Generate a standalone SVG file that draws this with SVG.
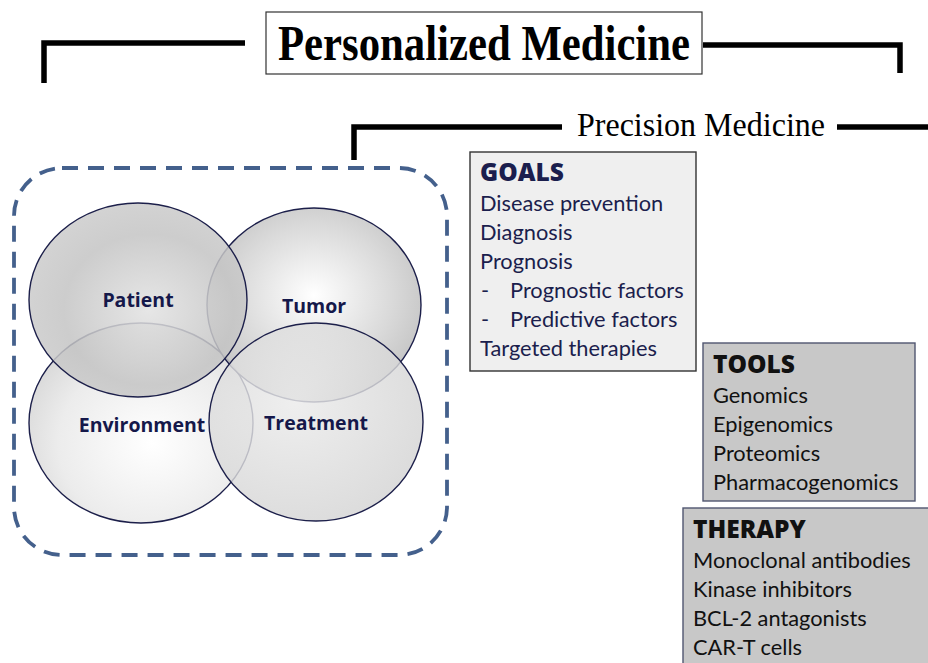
<svg xmlns="http://www.w3.org/2000/svg" width="928" height="663" viewBox="0 0 928 663">
  <style>
    .bracket { fill: none; stroke: #000; stroke-width: 5.5; stroke-linecap: butt; stroke-linejoin: miter; }
    .venn { stroke: #1c1f4a; stroke-width: 1.4; }
    .vlabel { font-family: "Open Sans", "Liberation Sans", sans-serif; font-weight: 700; font-size: 19.5px; fill: #15184a; text-anchor: middle; }
    .head { font-family: "Open Sans", "Liberation Sans", sans-serif; font-weight: 800; font-size: 24.5px; }
    .item { font-family: "Lato", "Liberation Sans", sans-serif; font-size: 21.8px; }
    .goals text { fill: #1b1e4d; }
    .gray text { fill: #111; }
  </style>
  <defs>
    <radialGradient id="gPatient" cx="0.55" cy="0.55" r="0.65">
      <stop offset="0" stop-color="#e2e2e2"/>
      <stop offset="0.6" stop-color="#c4c4c4"/>
      <stop offset="1" stop-color="#cfcfcf"/>
    </radialGradient>
    <radialGradient id="gTumor" cx="0.5" cy="0.45" r="0.6">
      <stop offset="0" stop-color="#ffffff"/>
      <stop offset="0.6" stop-color="#d6d6d6"/>
      <stop offset="1" stop-color="#b9b9b9"/>
    </radialGradient>
    <radialGradient id="gEnv" cx="0.55" cy="0.6" r="0.6">
      <stop offset="0" stop-color="#ffffff"/>
      <stop offset="0.7" stop-color="#eaeaea"/>
      <stop offset="1" stop-color="#d6d6d6"/>
    </radialGradient>
    <radialGradient id="gTreat" cx="0.4" cy="0.4" r="0.7">
      <stop offset="0" stop-color="#ebebeb"/>
      <stop offset="1" stop-color="#d2d2d2"/>
    </radialGradient>
  </defs>

  <!-- brackets and headings -->
  <g id="connectors">
    <path class="bracket" d="M44 83 V43 H245"/>
    <path class="bracket" d="M703 45 H900 V73"/>
    <path class="bracket" d="M354 160 V127 H562"/>
    <path class="bracket" d="M837 127 H928"/>
  </g>

  <g id="personalized">
    <rect x="266" y="12" width="436" height="62" fill="#fff" stroke="#333" stroke-width="1.2"/>
    <text x="278" y="60" font-family="Liberation Serif, serif" font-weight="700" font-size="51" textLength="412" lengthAdjust="spacingAndGlyphs">Personalized Medicine</text>
  </g>

  <g id="precision">
    <text x="577" y="136" font-family="Liberation Serif, serif" font-size="33" textLength="248" lengthAdjust="spacingAndGlyphs">Precision Medicine</text>
  </g>

  <!-- dashed frame around the Venn diagram -->
  <g id="frame">
    <rect x="14" y="168" width="433" height="387" rx="48" ry="48" fill="none" stroke="#44608c" stroke-width="3.8" stroke-dasharray="16 10"/>
  </g>

  <!-- four overlapping ellipses -->
  <g id="environment">
    <ellipse class="venn" cx="141" cy="423" rx="112" ry="100" fill="url(#gEnv)" fill-opacity="0.9"/>
  </g>
  <g id="tumor">
    <ellipse class="venn" cx="314" cy="305" rx="107" ry="97" fill="url(#gTumor)" fill-opacity="0.9"/>
  </g>
  <g id="patient">
    <ellipse class="venn" cx="138" cy="300" rx="109" ry="97" fill="url(#gPatient)" fill-opacity="0.85"/>
  </g>
  <g id="treatment">
    <ellipse class="venn" cx="316" cy="422" rx="107" ry="99" fill="url(#gTreat)" fill-opacity="0.82"/>
  </g>
  <g id="venn-labels">
    <text class="vlabel" x="138" y="307">Patient</text>
    <text class="vlabel" x="314" y="313">Tumor</text>
    <text class="vlabel" x="142" y="432">Environment</text>
    <text class="vlabel" x="316" y="430">Treatment</text>
  </g>

  <!-- GOALS -->
  <g id="goals" class="goals">
    <rect x="470" y="152" width="226" height="219" fill="#efefef" stroke="#333" stroke-width="1.4"/>
    <text class="head" x="480" y="181">GOALS</text>
    <text class="item" x="480" y="211">Disease prevention</text>
    <text class="item" x="480" y="240">Diagnosis</text>
    <text class="item" x="480" y="269">Prognosis</text>
    <text class="item" x="481" y="298">-</text>
    <text class="item" x="510" y="298">Prognostic factors</text>
    <text class="item" x="481" y="327">-</text>
    <text class="item" x="510" y="327">Predictive factors</text>
    <text class="item" x="480" y="356">Targeted therapies</text>
  </g>

  <!-- TOOLS -->
  <g id="tools" class="gray">
    <rect x="703" y="343" width="212" height="158" fill="#c8c8c8" stroke="#505670" stroke-width="1.4"/>
    <text class="head" x="713" y="373">TOOLS</text>
    <text class="item" x="713" y="403">Genomics</text>
    <text class="item" x="713" y="432">Epigenomics</text>
    <text class="item" x="713" y="461">Proteomics</text>
    <text class="item" x="713" y="490">Pharmacogenomics</text>
  </g>

  <!-- THERAPY -->
  <g id="therapy" class="gray">
    <rect x="683" y="508" width="250" height="160" fill="#c8c8c8" stroke="#505670" stroke-width="1.4"/>
    <text class="head" x="693" y="538">THERAPY</text>
    <text class="item" x="693" y="568">Monoclonal antibodies</text>
    <text class="item" x="693" y="597">Kinase inhibitors</text>
    <text class="item" x="693" y="626">BCL-2 antagonists</text>
    <text class="item" x="693" y="655">CAR-T cells</text>
  </g>
</svg>
